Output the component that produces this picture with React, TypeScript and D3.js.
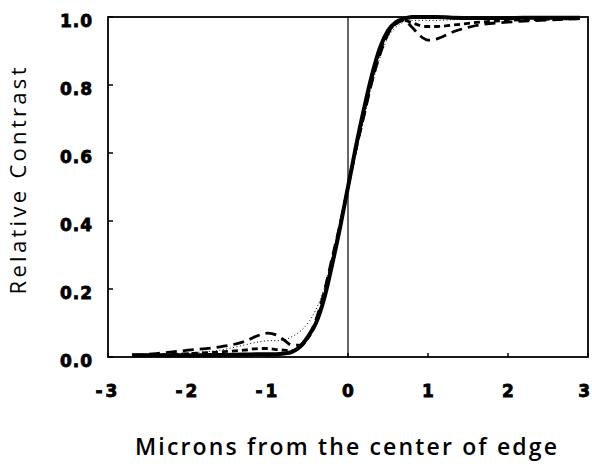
import React from "react";
import * as d3 from "d3";

const xGrid = [-2.7, -2.4, -2.0, -1.6, -1.3, -1.1, -1.0, -0.9, -0.8, -0.7, -0.6, -0.5, -0.4, -0.3, -0.2, -0.1, 0, 0.1, 0.2, 0.3, 0.4, 0.5, 0.6, 0.7, 0.8, 0.9, 1.0, 1.1, 1.3, 1.6, 2.0, 2.4, 2.9];

const solidSeries = [0.005, 0.005, 0.005, 0.006, 0.007, 0.008, 0.008, 0.008, 0.01, 0.015, 0.03, 0.06, 0.1, 0.17, 0.27, 0.38, 0.5, 0.62, 0.73, 0.83, 0.91, 0.96, 0.985, 0.995, 1.0, 1.0, 1.0, 1.0, 0.998, 0.997, 0.997, 0.998, 0.998];

const longDashSeries = [0.005, 0.01, 0.02, 0.03, 0.045, 0.065, 0.07, 0.065, 0.05, 0.035, 0.035, 0.06, 0.11, 0.19, 0.29, 0.39, 0.5, 0.61, 0.71, 0.81, 0.89, 0.95, 0.98, 0.99, 0.97, 0.945, 0.932, 0.935, 0.955, 0.975, 0.985, 0.99, 0.995];

const shortDashSeries = [0.005, 0.006, 0.01, 0.015, 0.02, 0.025, 0.025, 0.022, 0.02, 0.018, 0.03, 0.055, 0.1, 0.175, 0.28, 0.385, 0.5, 0.615, 0.72, 0.82, 0.9, 0.955, 0.98, 0.99, 0.983, 0.975, 0.972, 0.972, 0.976, 0.984, 0.99, 0.993, 0.995];

const dottedSeries = [0.005, 0.007, 0.012, 0.02, 0.035, 0.045, 0.048, 0.048, 0.05, 0.06, 0.075, 0.1, 0.14, 0.2, 0.29, 0.39, 0.5, 0.6, 0.7, 0.8, 0.88, 0.94, 0.97, 0.985, 0.99, 0.99, 0.99, 0.99, 0.992, 0.994, 0.996, 0.997, 0.998];

const xTicks = [-3, -2, -1, 0, 1, 2, 3];
const yTicks = [0.0, 0.2, 0.4, 0.6, 0.8, 1.0];

export default function App() {
  const left = 108, right = 588, top = 17, bottom = 357;
  const x = d3.scaleLinear().domain([-3, 3]).range([left, right]);
  const y = d3.scaleLinear().domain([0, 1]).range([bottom, top]);
  const line = d3
    .line<[number, number]>()
    .x((d) => x(d[0]))
    .y((d) => y(d[1]))
    .curve(d3.curveMonotoneX);
  const pts = (s: number[]) => xGrid.map((v, i) => [v, s[i]] as [number, number]);

  const tickFont = { fontFamily: "DejaVu Sans", fontWeight: 700, fontSize: 17, letterSpacing: 1, stroke: "#000", strokeWidth: 0.8 };
  const fmtY = d3.format(".1f");

  return (
    <svg width={592} height={464} style={{ position: "absolute", left: 0, top: 0, background: "#fff" }}>
      <rect x={0} y={0} width={592} height={464} fill="#fff" />
      {/* curves */}
      <path d={line(pts(dottedSeries)) || ""} fill="none" stroke="#000" strokeWidth={1} strokeDasharray="1,2.5" />
      <path d={line(pts(shortDashSeries)) || ""} fill="none" stroke="#000" strokeWidth={2.8} strokeDasharray="6,4" />
      <path d={line(pts(longDashSeries)) || ""} fill="none" stroke="#000" strokeWidth={2.8} strokeDasharray="11,6" />
      <path d={line(pts(solidSeries)) || ""} fill="none" stroke="#000" strokeWidth={4} />
      {/* frame */}
      <rect x={left} y={top} width={right - left} height={bottom - top} fill="none" stroke="#000" strokeWidth={1.8} />
      <line x1={x(0)} x2={x(0)} y1={top} y2={bottom} stroke="#000" strokeWidth={1.2} />
      {/* y ticks */}
      {yTicks.map((t) => (
        <g key={"y" + t}>
          <line x1={left} x2={left + 5} y1={y(t)} y2={y(t)} stroke="#000" strokeWidth={1.5} />
          <text x={93} y={y(t) + 4} textAnchor="end" dominantBaseline="central" style={tickFont}>
            {fmtY(t)}
          </text>
        </g>
      ))}
      {/* x ticks */}
      {xTicks.map((t) => (
        <g key={"x" + t}>
          <line x1={x(t)} x2={x(t)} y1={bottom} y2={bottom - 4} stroke="#000" strokeWidth={1.5} />
          <text x={t === 3 ? 590 : x(t)} y={391} textAnchor={t === 3 ? "end" : "middle"} dominantBaseline="central"
            style={{ ...tickFont, letterSpacing: t < 0 ? 3 : 0 }}>
            {t < 0 ? "-" + Math.abs(t) : String(t)}
          </text>
        </g>
      ))}
      {/* axis titles */}
      <text x={346} y={446} textAnchor="middle" dominantBaseline="central" textLength={422} lengthAdjust="spacing"
        style={{ fontFamily: "Open Sans", fontWeight: 600, fontSize: 23 }}>
        Microns from the center of edge
      </text>
      <text transform="translate(17,181) rotate(-90)" textAnchor="middle" dominantBaseline="central" textLength={227} lengthAdjust="spacing"
        style={{ fontFamily: "Open Sans", fontWeight: 400, fontSize: 22 }}>
        Relative Contrast
      </text>
    </svg>
  );
}
